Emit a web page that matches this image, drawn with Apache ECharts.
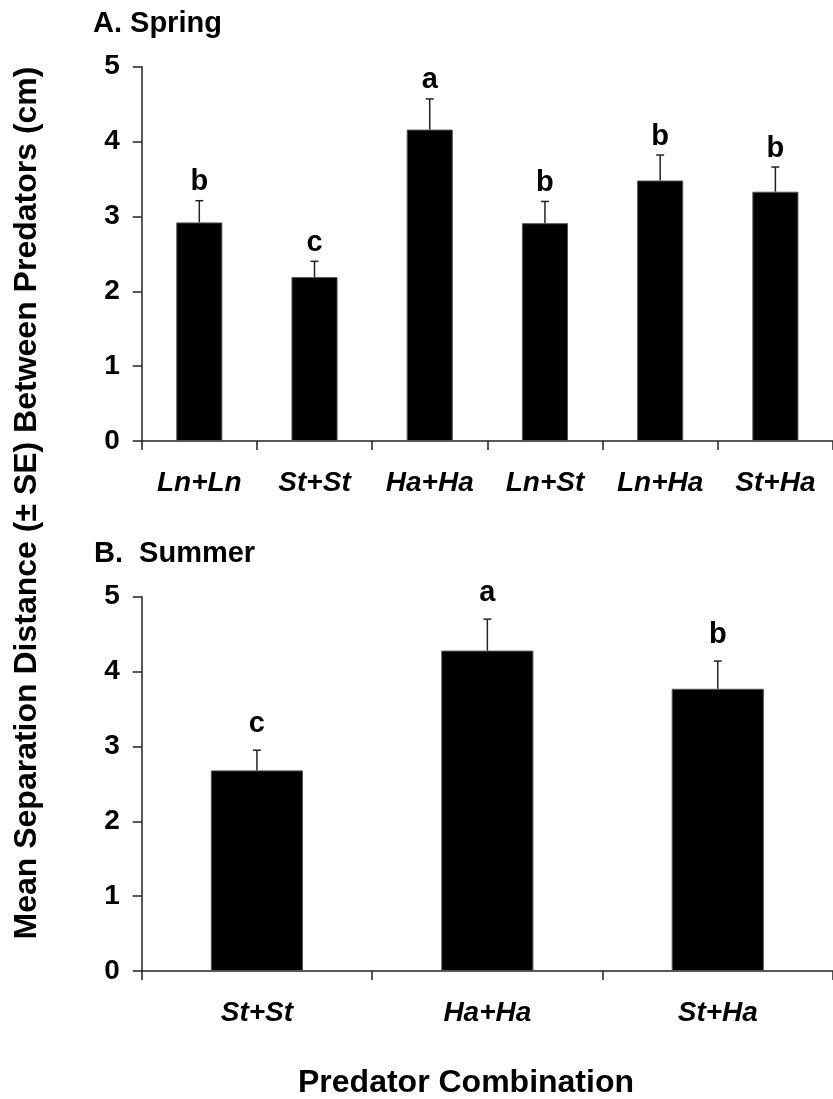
<!DOCTYPE html>
<html>
<head>
<meta charset="utf-8">
<script src="https://cdn.jsdelivr.net/npm/echarts@6/dist/echarts.min.js"></script>
<style>
  html, body { margin: 0; padding: 0; background: #fff; }
  #chart { width: 833px; height: 1099px; }
</style>
</head>
<body>
<div id="chart"></div>
<script>
// spring panel
const springCats = ["Ln+Ln", "St+St", "Ha+Ha", "Ln+St", "Ln+Ha", "St+Ha"];
const springMean = [2.92, 2.19, 4.16, 2.91, 3.48, 3.33];
const springSE = [0.29, 0.21, 0.41, 0.29, 0.34, 0.33];
const springLetters = ["b", "c", "a", "b", "b", "b"];
// summer panel
const summerCats = ["St+St", "Ha+Ha", "St+Ha"];
const summerMean = [2.68, 4.28, 3.77];
const summerSE = [0.27, 0.42, 0.37];
const summerLetters = ["c", "a", "b"];
const yTicks = [0, 1, 2, 3, 4, 5];

const FONT = "'Liberation Sans', Arial, Helvetica, sans-serif";
const axisColor = "#222";

const chart = echarts.init(document.getElementById("chart"), null, { renderer: "canvas" });

//誤差線 + 顯著性字母
function errorBarRender(letters, gap) {
  return function (params, api) {
    const idx = api.value(0);
    const mean = api.value(1);
    const se = api.value(2);
    const base = api.coord([idx, mean]);
    const top = api.coord([idx, mean + se]);
    const lineStyle = { stroke: axisColor, lineWidth: 1.5 };
    return {
      type: "group",
      children: [
        { type: "line", shape: { x1: base[0], y1: base[1], x2: top[0], y2: top[1] }, style: lineStyle },
        { type: "line", shape: { x1: top[0] - 4, y1: top[1], x2: top[0] + 4, y2: top[1] }, style: lineStyle },
        {
          type: "text",
          x: top[0],
          y: top[1] - gap,
          style: {
            text: letters[params.dataIndex],
            align: "center",
            verticalAlign: "bottom",
            fontSize: 29,
            fontWeight: "bold",
            fontFamily: FONT,
            fill: "#000",
          },
        },
      ],
    };
  };
}

function xAxisOpt(gridIndex, cats) {
  return {
    type: "category",
    gridIndex,
    data: cats,
    boundaryGap: true,
    axisLine: { lineStyle: { color: axisColor, width: 1.5 } },
    axisTick: { show: true, inside: false, length: 9, lineStyle: { color: axisColor, width: 1.5 } },
    axisLabel: {
      margin: 28,
      color: "#000",
      fontSize: 28,
      fontWeight: "bold",
      fontStyle: "italic",
      fontFamily: FONT,
    },
    splitLine: { show: false },
  };
}

function yAxisOpt(gridIndex) {
  return {
    type: "value",
    gridIndex,
    min: yTicks[0],
    max: yTicks[yTicks.length - 1],
    interval: 1,
    axisLine: { show: true, lineStyle: { color: axisColor, width: 1.5 } },
    axisTick: { show: true, inside: false, length: 9, lineStyle: { color: axisColor, width: 1.5 } },
    axisLabel: {
      margin: 22,
      color: "#000",
      fontSize: 28,
      fontWeight: "bold",
      fontFamily: FONT,
    },
    splitLine: { show: false },
  };
}

const option = {
  backgroundColor: "#fff",
  animation: false,
  grid: [
    { left: 141.7, top: 66.7, width: 696, height: 374.3, containLabel: false },
    { left: 141.7, top: 596.7, width: 696, height: 374.3, containLabel: false },
  ],
  xAxis: [xAxisOpt(0, springCats), xAxisOpt(1, summerCats)],
  yAxis: [yAxisOpt(0), yAxisOpt(1)],
  graphic: [
    {
      type: "text",
      left: 93,
      top: 9,
      style: { text: "A. Spring", fontSize: 29, fontWeight: "bold", fontFamily: FONT, fill: "#000" },
    },
    {
      type: "text",
      left: 94,
      top: 539,
      style: { text: "B.  Summer", fontSize: 29, fontWeight: "bold", fontFamily: FONT, fill: "#000" },
    },
    {
      type: "text",
      x: 27,
      y: 503,
      rotation: Math.PI / 2,
      style: {
        text: "Mean Separation Distance (± SE) Between Predators (cm)",
        align: "center",
        verticalAlign: "middle",
        fontSize: 32,
        fontWeight: "bold",
        fontFamily: FONT,
        fill: "#000",
      },
    },
    {
      type: "text",
      x: 466,
      y: 1083,
      style: {
        text: "Predator Combination",
        align: "center",
        verticalAlign: "middle",
        fontSize: 32,
        fontWeight: "bold",
        fontFamily: FONT,
        fill: "#000",
      },
    },
  ],
  series: [
    {
      name: "spring",
      type: "bar",
      xAxisIndex: 0,
      yAxisIndex: 0,
      barWidth: "40%",
      itemStyle: { color: "#000", borderColor: "#555", borderWidth: 1 },
      data: springMean,
    },
    {
      name: "springErr",
      type: "custom",
      xAxisIndex: 0,
      yAxisIndex: 0,
      renderItem: errorBarRender(springLetters, 4),
      data: springMean.map((m, i) => [i, m, springSE[i]]),
      z: 5,
    },
    {
      name: "summer",
      type: "bar",
      xAxisIndex: 1,
      yAxisIndex: 1,
      barWidth: "40%",
      itemStyle: { color: "#000", borderColor: "#555", borderWidth: 1 },
      data: summerMean,
    },
    {
      name: "summerErr",
      type: "custom",
      xAxisIndex: 1,
      yAxisIndex: 1,
      renderItem: errorBarRender(summerLetters, 12),
      data: summerMean.map((m, i) => [i, m, summerSE[i]]),
      z: 5,
    },
  ],
};

chart.setOption(option);
</script>
</body>
</html>
